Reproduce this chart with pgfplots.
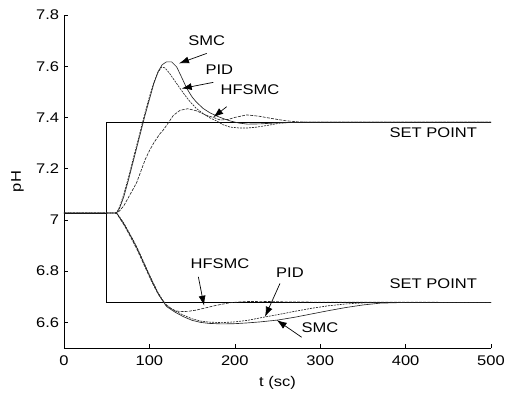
\documentclass[border=0pt]{standalone}
\usepackage{pgfplots}
\pgfplotsset{compat=1.18}
\usetikzlibrary{arrows.meta}
\usepackage{fontspec}
\setmainfont{Liberation Sans}[FakeStretch=1.18]
\begin{document}
\fontsize{14}{17}\selectfont
\begin{tikzpicture}
\useasboundingbox (-64pt,-45pt) rectangle (441pt,348pt);
\begin{axis}[at={(0,0)},anchor=south west,scale only axis,
  width=427pt,height=333pt,
  xmin=0,xmax=500,ymin=6.5,ymax=7.8,
  axis lines=left, axis line style={-,line width=0.6pt,black},
  tick align=inside, major tick length=4pt,
  tick style={line width=0.6pt,black},
  xtick={0,100,200,300,400,500},
  ytick={6.6,6.8,7,7.2,7.4,7.6,7.8},
  yticklabels={6.6,6.8,7,7.2,7.4,7.6,7.8},
  /pgf/number format/assume math mode=true,
  xticklabel style={yshift=-3pt},
  xlabel={t (sc)}, ylabel={pH},
  xlabel style={at={(axis description cs:0.5,-0.105)},anchor=center},
  ylabel style={at={(axis description cs:-0.109,0.5)},anchor=center},
  clip=false]
% set point
\addplot[black,line width=0.8pt] coordinates {(0,7.027)(50,7.027)(50,7.381)(500,7.381)};
\addplot[black,line width=0.8pt] coordinates {(50,7.027)(50,6.678)(500,6.678)};
% upper SMC
\addplot[black!85,line width=0.65pt] coordinates {(0,7.027)(60,7.027)(62,7.03)(65,7.045)(70,7.09)(75,7.15)(80,7.215)(85,7.28)(90,7.345)(95,7.41)(100,7.47)(105,7.53)(110,7.578)(115,7.606)(120,7.617)(126,7.617)(132,7.597)(138,7.555)(144,7.512)(150,7.48)(155,7.46)(163,7.435)(171,7.418)(180,7.404)(187,7.395)(195,7.386)(205,7.378)(215,7.374)(230,7.375)(250,7.379)(280,7.381)(500,7.381)};
% upper PID
\addplot[black!85,line width=0.65pt,dash pattern=on 2pt off 1pt] coordinates {(0,7.027)(60,7.027)(62,7.03)(65,7.05)(70,7.10)(75,7.16)(80,7.225)(85,7.29)(90,7.355)(95,7.42)(100,7.48)(105,7.535)(110,7.575)(114,7.596)(118,7.594)(123,7.575)(128,7.551)(136,7.513)(142,7.485)(148,7.46)(155,7.435)(163,7.415)(171,7.398)(179,7.386)(186,7.372)(195,7.362)(205,7.359)(215,7.359)(225,7.362)(240,7.37)(253,7.378)(270,7.381)(500,7.381)};
% upper HFSMC
\addplot[black!85,line width=0.65pt,dash pattern=on 3pt off 1.2pt] coordinates {(0,7.027)(60,7.027)(62,7.028)(65,7.035)(70,7.055)(75,7.085)(80,7.115)(85,7.145)(90,7.19)(95,7.235)(100,7.27)(105,7.3)(112,7.335)(116,7.35)(122,7.378)(128,7.408)(136,7.428)(145,7.434)(155,7.426)(167,7.408)(175,7.40)(183,7.39)(192,7.392)(200,7.4)(214,7.41)(228,7.405)(245,7.395)(260,7.387)(276,7.382)(500,7.381)};
% lower SMC
\addplot[black!85,line width=0.65pt] coordinates {(60,7.027)(62,7.025)(65,7.01)(70,6.985)(75,6.955)(80,6.925)(85,6.893)(90,6.857)(95,6.82)(100,6.783)(105,6.748)(110,6.714)(115,6.687)(120,6.662)(130,6.64)(140,6.622)(150,6.608)(160,6.6)(170,6.596)(185,6.594)(200,6.595)(215,6.598)(230,6.602)(250,6.609)(270,6.62)(290,6.633)(310,6.646)(330,6.658)(350,6.668)(370,6.675)(400,6.678)(500,6.678)};
% lower PID
\addplot[black!85,line width=0.65pt,dash pattern=on 2pt off 1pt] coordinates {(60,7.027)(62,7.025)(65,7.012)(70,6.988)(75,6.958)(80,6.928)(85,6.896)(90,6.86)(95,6.823)(100,6.786)(105,6.751)(110,6.717)(115,6.69)(120,6.665)(130,6.645)(140,6.628)(150,6.614)(160,6.605)(170,6.601)(185,6.599)(200,6.602)(215,6.608)(235,6.621)(250,6.63)(270,6.643)(290,6.655)(310,6.665)(330,6.672)(350,6.676)(370,6.678)(500,6.678)};
% lower HFSMC
\addplot[black!85,line width=0.65pt,dash pattern=on 3pt off 1.2pt] coordinates {(60,7.027)(62,7.024)(65,7.008)(70,6.982)(75,6.952)(80,6.92)(85,6.888)(90,6.852)(95,6.815)(100,6.778)(105,6.744)(110,6.712)(115,6.688)(120,6.668)(125,6.655)(130,6.646)(136,6.642)(145,6.643)(155,6.648)(165,6.656)(175,6.664)(185,6.671)(195,6.677)(210,6.681)(230,6.682)(260,6.68)(300,6.679)(500,6.678)};
% annotations
\tikzset{ann/.style={-{Latex[length=10pt,width=7pt]},line width=0.7pt}}
\node at (axis cs:167.1,7.700) {SMC};
\draw[ann] (axis cs:167.1,7.650) -- (axis cs:134.7,7.611);
\node at (axis cs:181.9,7.585) {PID};
\draw[ann] (axis cs:174.8,7.537) -- (axis cs:137.8,7.513);
\node at (axis cs:217.8,7.507) {HFSMC};
\draw[ann] (axis cs:190.5,7.442) -- (axis cs:174.8,7.401);
\node at (axis cs:432.4,7.340) {SET POINT};
\node at (axis cs:182.7,6.828) {HFSMC};
\draw[ann] (axis cs:157.3,6.778) -- (axis cs:164,6.665);
\node at (axis cs:264.6,6.794) {PID};
\draw[ann] (axis cs:252.9,6.752) -- (axis cs:235.4,6.622);
\node at (axis cs:299.8,6.581) {SMC};
\draw[ann] (axis cs:278.3,6.542) -- (axis cs:249.1,6.609);
\node at (axis cs:432.4,6.752) {SET POINT};
\end{axis}
\end{tikzpicture}
\end{document}
